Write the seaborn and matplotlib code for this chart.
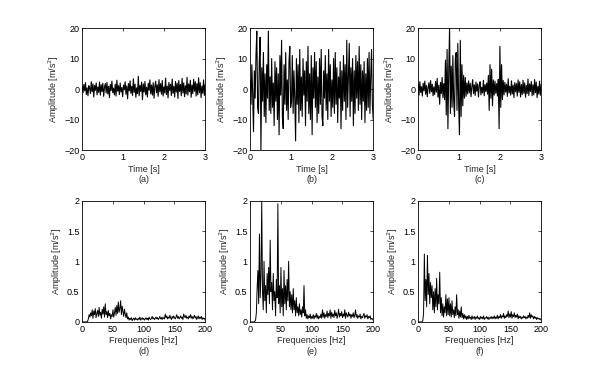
import numpy as np
import pandas as pd
import seaborn as sns
from matplotlib import pyplot as plt

# time signals (0..3 s)
sig_a = [
    0.8, -1.2, 1.5, -0.6, 2.1, -1.8, 0.4, -2.2, 1.1, 0.3, -1.5, 2.4, -0.9, 1.7, -2.6,
    1.2, -0.4, 2.0, -1.9, 0.7, -1.1, 2.3, -2.0, 1.4, -0.8, 1.9, -2.4, 0.6, 1.8, -1.3,
    2.2, -1.6, 0.9, -2.8, 1.5, -0.5, 2.6, -1.2, 0.3, -1.9, 1.6, -2.3, 2.9, -0.7, 1.1,
    -1.8, 2.0, -1.0, 0.5, -2.5, 1.3, -0.2, 2.4, -1.7, 1.0, -3.2, 1.8, -0.6, 2.7, -1.4,
    0.9, -2.1, 3.4, -1.1, 1.6, -2.7, 0.4, -1.5, 4.2, -2.2, 1.2, -0.8, 2.3, -3.5, 1.7,
    -1.0, 2.5, -1.9, 0.6, -2.6, 1.9, -0.4, 3.0, -1.6, 1.3, -2.0, 2.1, -3.0, 0.8, 2.6,
    -1.2, 1.4, -2.4, 3.1, -0.9, 1.8, -1.7, 2.8, -2.3, 0.7, -1.3, 3.6, -1.8, 1.0, -2.9,
    2.2, -0.5, 1.6, -2.1, 3.3, -1.4, 0.9, -2.6, 2.5, -1.0, 1.9, -3.1, 2.8, -0.8, 1.5,
    -2.2, 3.5, -1.3, 2.0, -2.5, 1.1, -1.6, 3.8, -2.0, 1.7, -0.9, 2.9, -2.7, 1.3, -1.5,
    3.2, -0.7, 2.4, -2.3, 1.8, -1.9, 3.7, -1.2, 2.1, -2.8, 1.0, -1.4, 3.0, -2.1, 1.6,
]
sig_b = [
    3, -5, 8, -2, -14, 6, -3, 11, 19, -6, -8, 9, 17, -20, 7, -4, 12, -9, 5, -11, 8, -3, 19, -7, 4,
    -8, 10, -6, 2, -12, 9, -4, 7, -10, 5, -15, 11, -2, 16, -9, -13, 8, -5, 12, -7, 3, -10, 9, 14, -6,
    -4, 11, -8, 6, -3, -17, 10, -5, 8, -11, 13, -7, 4, -9, 10, -2, 6, -12, 9, -4, 14, -8, 5, -10, 11,
    -15, 7, -3, 12, -6, 9, -11, 4, -8, 10, -5, 13, -9, -12, 6, -3, 11, -7, 5, -10, 13, -4, 8, -9, 3,
    -6, 10, -8, 12, -5, 7, -11, 4, -3, 9, -13, 6, -7, 11, -4, 8, -10, 16, -6, 5, 15, -9, 7, -4, 10,
    -12, 6, -8, 11, -3, 9, -7, 14, -5, 8, -10, 6, -4, 9, -11, 5, -7, 10, -6, 12, -8, 4, 13, -5, -10,
]
sig_c = [
    1.5, -2.0, 2.4, -1.1, 0.8, -2.3, 1.9, -0.6, 2.6, -1.7, 1.2, -2.5, 0.5, 2.1, -1.4,
    2.8, -0.9, 1.6, -2.2, 0.7, -1.8, 2.5, -1.0, 3.5, -2.7, 1.3, -5.0, 2.2, -1.5, 3.8,
    -2.9, 1.8, -3.5, 9.5, -8.5, 13.0, -13.0, 6.0, 20.0, -8.0, 7.5, -6.0, 11.0, -4.0, -9.0,
    10.0, 12.0, -7.0, 15.0, -5.0, -15.0, 16.0, -9.0, 8.0, -5.5, 4.5, -3.0, 3.8, -2.4, 2.0,
    -1.6, 2.7, -1.2, 1.9, -2.5, 0.8, 3.1, -1.5, 1.4, -2.1, 2.3, -0.7, 1.7, -2.6, 1.1,
    2.4, -1.9, 0.6, -1.3, 2.9, -2.2, 1.5, -0.8, 2.0, -1.7, 4.5, -7.0, 8.0, -3.0, 6.5,
    -5.5, 3.0, -2.0, 2.6, -1.4, 1.8, -2.3, 3.2, -13.0, 14.0, -6.0, 8.0, -3.5, 2.8, -1.9,
    2.2, -1.0, 1.6, -2.4, 3.4, -1.3, 0.9, -2.0, 2.7, -1.6, 1.3, -2.8, 2.1, -0.9, 1.8,
    -2.3, 3.0, -1.1, 2.4, -2.6, 1.5, -1.8, 2.9, -1.4, 2.0, -2.7, 1.2, -1.5, 3.3, -2.1,
    1.7, -0.8, 2.5, -2.2, 1.4, -1.9, 3.1, -1.2, 2.3, -2.8, 0.9, -1.6, 2.6, -2.0, 1.5,
]

# spectra (0..200 Hz)
spec_d = [
    0, 0, 0, 0, 0, 0, 0, 0.01, 0.05, 0.12, 0.08, 0.15, 0.10, 0.20, 0.06, 0.18, 0.12, 0.22, 0.07, 0.14,
    0.19, 0.09, 0.24, 0.11, 0.16, 0.06, 0.21, 0.13, 0.25, 0.08, 0.30, 0.12, 0.17, 0.07, 0.19, 0.10, 0.14, 0.05, 0.12, 0.09,
    0.20, 0.08, 0.15, 0.24, 0.11, 0.27, 0.14, 0.33, 0.16, 0.22, 0.35, 0.12, 0.26, 0.18, 0.09, 0.21, 0.13, 0.07, 0.15, 0.05,
    0.08, 0.03, 0.06, 0.04, 0.07, 0.02, 0.05, 0.06, 0.03, 0.07, 0.04, 0.05, 0.03, 0.06, 0.04, 0.08, 0.03, 0.05, 0.07, 0.04,
    0.06, 0.03, 0.05, 0.07, 0.04, 0.06, 0.03, 0.08, 0.05, 0.04, 0.06, 0.09, 0.05, 0.07, 0.04, 0.06, 0.08, 0.05, 0.07, 0.04,
    0.06, 0.09, 0.05, 0.07, 0.04, 0.08, 0.06, 0.05, 0.13, 0.07, 0.10, 0.05, 0.08, 0.06, 0.11, 0.07, 0.04, 0.09, 0.06, 0.10,
    0.07, 0.05, 0.08, 0.12, 0.06, 0.09, 0.05, 0.07, 0.10, 0.06, 0.08, 0.04, 0.13, 0.09, 0.07, 0.11, 0.06, 0.08, 0.05, 0.10,
    0.07, 0.12, 0.06, 0.09, 0.05, 0.08, 0.11, 0.06, 0.09, 0.04, 0.07, 0.10, 0.05, 0.08, 0.06, 0.09, 0.04, 0.07, 0.05, 0.06, 0.03,
]
spec_e = [
    0, 0, 0, 0, 0, 0, 0.01, 0.03, 0.15, 0.55, 0.85, 0.3, 1.45, 0.4, 0.75, 2.0, 0.5, 0.2, 1.0, 0.35,
    0.6, 0.15, 0.8, 0.45, 0.9, 0.3, 1.35, 0.5, 0.65, 0.2, 0.8, 0.35, 0.5, 0.1, 0.7, 0.4, 1.95, 0.3, 0.6, 0.15,
    0.9, 0.25, 0.55, 0.1, 0.85, 0.3, 0.6, 0.2, 0.7, 0.35, 1.0, 0.25, 0.5, 0.2, 0.45, 0.15, 0.55, 0.2, 0.35, 0.1,
    0.4, 0.15, 0.25, 0.1, 0.3, 0.12, 0.2, 0.08, 0.25, 0.15, 0.6, 0.1, 0.2, 0.06, 0.12, 0.05, 0.1, 0.07, 0.13, 0.05,
    0.09, 0.06, 0.12, 0.05, 0.1, 0.08, 0.14, 0.06, 0.11, 0.05, 0.09, 0.07, 0.13, 0.06, 0.2, 0.08, 0.15, 0.06, 0.12, 0.09,
    0.18, 0.07, 0.14, 0.1, 0.2, 0.06, 0.16, 0.09, 0.13, 0.07, 0.19, 0.1, 0.15, 0.06, 0.12, 0.21, 0.08, 0.14, 0.1, 0.17,
    0.07, 0.13, 0.09, 0.2, 0.06, 0.15, 0.11, 0.08, 0.16, 0.1, 0.13, 0.06, 0.12, 0.09, 0.15, 0.07, 0.11, 0.2, 0.08, 0.12,
    0.06, 0.1, 0.08, 0.13, 0.05, 0.09, 0.07, 0.11, 0.14, 0.06, 0.1, 0.08, 0.12, 0.05, 0.09, 0.07, 0.1, 0.04, 0.06, 0.05, 0.03,
]
spec_f = [
    0, 0, 0, 0, 0, 0, 0.02, 0.15, 1.12, 0.35, 0.7, 0.25, 1.1, 0.45, 0.8, 0.3, 0.65, 0.4, 0.6, 0.2,
    0.5, 0.15, 0.55, 0.25, 0.72, 0.2, 0.45, 0.3, 0.82, 0.15, 0.4, 0.1, 0.3, 0.08, 0.25, 0.15, 0.45, 0.1, 0.38, 0.12,
    0.4, 0.1, 0.3, 0.08, 0.35, 0.12, 0.2, 0.07, 0.25, 0.1, 0.45, 0.12, 0.2, 0.06, 0.18, 0.08, 0.25, 0.07, 0.14, 0.05,
    0.12, 0.06, 0.1, 0.04, 0.09, 0.05, 0.11, 0.06, 0.08, 0.04, 0.1, 0.05, 0.07, 0.09, 0.04, 0.08, 0.06, 0.1, 0.05, 0.07,
    0.04, 0.09, 0.06, 0.08, 0.05, 0.1, 0.04, 0.07, 0.06, 0.09, 0.05, 0.08, 0.04, 0.07, 0.06, 0.09, 0.05, 0.08, 0.06, 0.1,
    0.05, 0.08, 0.06, 0.11, 0.05, 0.09, 0.07, 0.12, 0.06, 0.1, 0.08, 0.14, 0.06, 0.1, 0.07, 0.12, 0.09, 0.18, 0.07, 0.13,
    0.08, 0.17, 0.06, 0.12, 0.09, 0.15, 0.07, 0.11, 0.08, 0.13, 0.05, 0.1, 0.07, 0.09, 0.05, 0.08, 0.06, 0.1, 0.07, 0.09,
    0.05, 0.08, 0.06, 0.11, 0.07, 0.15, 0.06, 0.12, 0.08, 0.1, 0.05, 0.09, 0.06, 0.08, 0.04, 0.07, 0.05, 0.06, 0.04, 0.05, 0.03,
]

time_signals = [sig_a, sig_b, sig_c]
spectra = [spec_d, spec_e, spec_f]
captions_top = ["(a)", "(b)", "(c)"]
captions_bot = ["(d)", "(e)", "(f)"]

sns.set_style("white")
plt.rcParams['font.family'] = ['Liberation Sans', 'DejaVu Sans']
plt.rcParams['font.size'] = 6.5

fig = plt.figure(figsize=(6, 3.65), dpi=100)
lefts = [0.137, 0.417, 0.697]
w, h = 0.205, 0.334


def style_axes(ax):
    ax.tick_params(direction='in', length=2.5, width=0.5, labelsize=6.5,
                   top=True, right=True, pad=2, colors='black')
    for s in ax.spines.values():
        s.set_linewidth(0.6)
        s.set_color('black')


for i in range(3):
    ax = fig.add_axes([lefts[i], 0.589, w, h])
    y = time_signals[i]
    df = pd.DataFrame({"t": np.linspace(0, 3, len(y)), "a": y})
    sns.lineplot(data=df, x="t", y="a", ax=ax, color="black", linewidth=0.8)
    ax.set_xlim(0, 3)
    ax.set_ylim(-20, 20)
    ax.set_xticks([0, 1, 2, 3])
    ax.set_yticks([-20, -10, 0, 10, 20])
    ax.set_xlabel("Time [s]\n" + captions_top[i], fontsize=6.5, labelpad=2)
    ax.set_ylabel("Amplitude [m/s$^2$]", fontsize=6.5, labelpad=2)
    style_axes(ax)

for i in range(3):
    ax = fig.add_axes([lefts[i], 0.118, w, 0.332])
    y = spectra[i]
    df = pd.DataFrame({"f": np.linspace(0, 200, len(y)), "a": y})
    sns.lineplot(data=df, x="f", y="a", ax=ax, color="black", linewidth=0.7)
    ax.set_xlim(0, 200)
    ax.set_ylim(0, 2)
    ax.set_xticks([0, 50, 100, 150, 200])
    ax.set_yticks([0, 0.5, 1, 1.5, 2])
    ax.set_yticklabels(["0", "0.5", "1", "1.5", "2"])
    ax.set_xlabel("Frequencies [Hz]\n" + captions_bot[i], fontsize=6.5, labelpad=2)
    ax.set_ylabel("Amplitude [m/s$^2$]", fontsize=6.5, labelpad=2)
    style_axes(ax)

fig.savefig("out.png", dpi=100)
